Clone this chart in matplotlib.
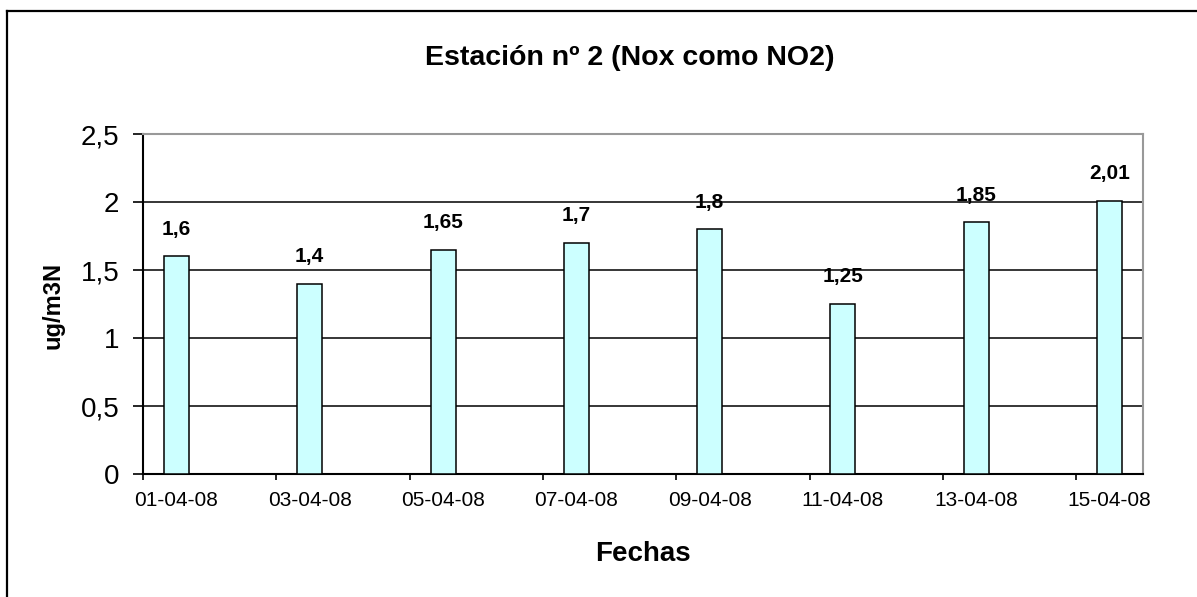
import matplotlib
matplotlib.use("Agg")
import matplotlib.pyplot as plt
from matplotlib.lines import Line2D

# Datos
fechas = ['01-04-08', '03-04-08', '05-04-08', '07-04-08',
          '09-04-08', '11-04-08', '13-04-08', '15-04-08']
valores = [1.6, 1.4, 1.65, 1.7, 1.8, 1.25, 1.85, 2.01]
etiquetas = ['1,6', '1,4', '1,65', '1,7', '1,8', '1,25', '1,85', '2,01']
y_ticks = [0, 0.5, 1, 1.5, 2, 2.5]
y_tick_labels = ['0', '0,5', '1', '1,5', '2', '2,5']

dias = [int(f[:2]) for f in fechas]

plt.rcParams['font.family'] = ['Liberation Sans', 'DejaVu Sans']

fig = plt.figure(figsize=(11.97, 5.97), dpi=100)
ax = fig.add_axes([143 / 1197, (597 - 474) / 597, 1000 / 1197, 340 / 597])

ax.bar(dias, valores, width=0.375, color='#CCFFFF', edgecolor='black',
       linewidth=1.1, zorder=3)

for d, v, t in zip(dias, valores, etiquetas):
    ax.annotate(t, (d, v), xytext=(0, 19.5), textcoords='offset points',
                ha='center', va='center', fontsize=15, fontweight='bold', zorder=4)

ax.set_xlim(0.5, 15.5)
ax.set_ylim(0, 2.5)

# ticks en los limites de los dias, etiquetas centradas en cada dia
ax.set_xticks([d - 0.5 for d in dias])
ax.set_xticklabels([])
ax.set_xticks(dias, minor=True)
ax.set_xticklabels(fechas, minor=True, fontsize=15)
ax.tick_params(axis='x', which='major', direction='out', length=4.5, width=1.2)
ax.tick_params(axis='x', which='minor', length=0, pad=12)

ax.set_yticks(y_ticks)
ax.set_yticklabels(y_tick_labels, fontsize=20)
ax.tick_params(axis='y', direction='out', length=7, width=1.2, pad=10)

ax.grid(axis='y', color='black', linewidth=1.1, zorder=0)
ax.set_axisbelow(True)

ax.spines['left'].set_linewidth(1.5)
ax.spines['bottom'].set_linewidth(1.5)
ax.spines['top'].set_color('#999999')
ax.spines['right'].set_color('#999999')
ax.spines['top'].set_linewidth(1.5)
ax.spines['right'].set_linewidth(1.5)

fig.text(630 / 1197, 1 - 58 / 597, 'Estación nº 2 (Nox como NO2)',
         ha='center', va='center', fontsize=20.5, fontweight='bold')
fig.text(643 / 1197, 1 - 554 / 597, 'Fechas',
         ha='center', va='center', fontsize=20, fontweight='bold')
fig.text(53 / 1197, 1 - 305 / 597, 'ug/m3N', rotation=90,
         ha='center', va='center', fontsize=17, fontweight='bold')

# marco exterior (solo arriba e izquierda visibles)
fig.add_artist(Line2D([7 / 1197, 1], [1 - 11 / 597, 1 - 11 / 597],
                      transform=fig.transFigure, color='black', linewidth=1.6))
fig.add_artist(Line2D([7 / 1197, 7 / 1197], [0, 1 - 11 / 597],
                      transform=fig.transFigure, color='black', linewidth=1.6))

fig.savefig('out.png', dpi=100)
